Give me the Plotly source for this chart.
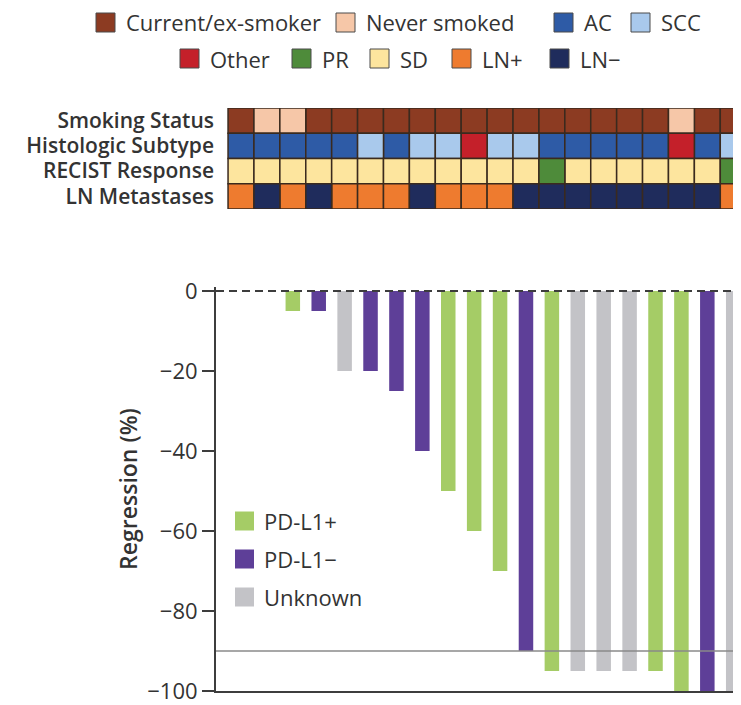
import plotly.graph_objects as go

# ---------------- data ----------------
patients = list(range(1, 21))
regression = [0, 0, -5, -5, -20, -20, -25, -40, -50, -60, -70, -90,
              -95, -95, -95, -95, -95, -100, -100, -100]
pdl1_status = ["PD-L1−", "PD-L1−", "PD-L1+", "PD-L1−", "Unknown", "PD-L1−", "PD-L1−",
               "PD-L1−", "PD-L1+", "PD-L1+", "PD-L1+", "PD-L1−", "PD-L1+", "Unknown",
               "Unknown", "Unknown", "PD-L1+", "PD-L1+", "PD-L1−", "Unknown"]
smoking = ["Current/ex-smoker", "Never smoked", "Never smoked"] + ["Current/ex-smoker"] * 14 + \
          ["Never smoked", "Current/ex-smoker", "Current/ex-smoker"]
histology = ["AC", "AC", "AC", "AC", "AC", "SCC", "AC", "SCC", "SCC", "Other", "SCC", "SCC",
             "AC", "AC", "AC", "AC", "AC", "Other", "AC", "SCC"]
recist = ["SD"] * 12 + ["PR"] + ["SD"] * 6 + ["PR"]
ln_meta = ["LN+", "LN−", "LN+", "LN−", "LN+", "LN+", "LN+", "LN−", "LN+", "LN+", "LN+"] + \
          ["LN−"] * 8 + ["LN+"]
threshold = -90

row_labels = ["Smoking Status", "Histologic Subtype", "RECIST Response", "LN Metastases"]
row_values = [smoking, histology, recist, ln_meta]

legend_row1 = ["Current/ex-smoker", "Never smoked", "AC", "SCC"]
legend_row2 = ["Other", "PR", "SD", "LN+", "LN−"]
pdl1_labels = ["PD-L1+", "PD-L1−", "Unknown"]
y_ticks = [0, -20, -40, -60, -80, -100]

# ---------------- styles ----------------
cat_colors = {
    "Current/ex-smoker": "#8C3B22", "Never smoked": "#F6C7A8",
    "AC": "#2E5BA6", "SCC": "#A9C9EC", "Other": "#C4202A",
    "PR": "#4E8B3A", "SD": "#FDE59E", "LN+": "#EE7B2F", "LN−": "#1F2C5C",
}
bar_colors = {"PD-L1+": "#A5CC66", "PD-L1−": "#5E3F98", "Unknown": "#C3C3C7"}
cell_border = "#3A2A1E"
ink = "#333333"
W, H = 741, 705
FONT = "Open Sans"
OFF = 8  # page body margin offset compensation (px)


def px_x(x):
    return (x - OFF) / W


def px_y(y):
    return 1 - (y - OFF) / H


fig = go.Figure()

# waterfall bars
for status in pdl1_labels:
    xs = [p for p, s in zip(patients, pdl1_status) if s == status]
    ys = [r for r, s in zip(regression, pdl1_status) if s == status]
    fig.add_trace(go.Bar(x=xs, y=ys, name=status, width=0.56,
                         marker=dict(color=bar_colors[status], line=dict(width=0)),
                         xaxis="x", yaxis="y", showlegend=False))

# annotation tiles (heatmap rows)
n_rows = len(row_labels)
for i, (label, vals) in enumerate(zip(row_labels, row_values)):
    base = n_rows - 1 - i
    for cat in dict.fromkeys(vals):
        xs = [p for p, v in zip(patients, vals) if v == cat]
        fig.add_trace(go.Bar(x=xs, y=[1] * len(xs), base=[base] * len(xs), width=1,
                             marker=dict(color=cat_colors[cat],
                                         line=dict(color=cell_border, width=1.5)),
                             xaxis="x2", yaxis="y2", showlegend=False, name=cat))

x_dom = [px_x(216), px_x(741)]
x_rng = [0.035, 20.3]

fig.update_layout(
    width=W, height=H, margin=dict(l=0, r=0, t=0, b=0, pad=0), autosize=False,
    paper_bgcolor="white", plot_bgcolor="white", barmode="overlay", showlegend=False,
    font=dict(family=FONT, color=ink),
    xaxis=dict(domain=x_dom, range=x_rng, anchor="y", showline=True, linecolor="#3d3d3d",
               linewidth=2, showticklabels=False, ticks="", showgrid=False, zeroline=False,
               automargin=False),
    yaxis=dict(domain=[px_y(691), px_y(287)], range=[-100, 1], anchor="x",
               tickvals=y_ticks, ticks="outside", ticklen=12, tickwidth=2,
               tickcolor="#3d3d3d", showline=True, linewidth=2, linecolor="#3d3d3d",
               showgrid=False, zeroline=False, tickfont=dict(size=22, color=ink),
               automargin=False,
               title=dict(text="Regression (%)", standoff=3,
                          font=dict(size=23, color=ink, weight=600))),
    xaxis2=dict(domain=x_dom, range=x_rng, anchor="y2", visible=False, automargin=False),
    yaxis2=dict(domain=[px_y(209), px_y(108)], range=[0, n_rows], anchor="free",
                position=px_x(214), automargin=False,
                tickvals=[n_rows - 0.5 - i for i in range(n_rows)], ticktext=row_labels,
                ticks="", showline=False, showgrid=False, zeroline=False,
                tickfont=dict(size=21, color=ink, weight=600)),
)

# reference lines
fig.add_shape(type="line", xref="x domain", x0=0, x1=1, yref="y", y0=0, y1=0,
              line=dict(color="#3d3d3d", width=2, dash="8px,5px"), layer="above")
fig.add_shape(type="line", xref="x domain", x0=0, x1=1, yref="y", y0=threshold, y1=threshold,
              line=dict(color="#8a8a8a", width=1.5), layer="above")


def legend_item(x_px, y_px, label, color, size=19, fsize=22, gap=9):
    fig.add_shape(type="rect", xref="paper", yref="paper",
                  x0=px_x(x_px), x1=px_x(x_px + size),
                  y0=px_y(y_px + size / 2), y1=px_y(y_px - size / 2),
                  fillcolor=color, line=dict(color="#4a4a4a", width=1))
    fig.add_annotation(x=px_x(x_px + size + gap), y=px_y(y_px), xref="paper", yref="paper",
                       text=label, showarrow=False, xanchor="left", yanchor="middle",
                       font=dict(size=fsize, color=ink, family=FONT))


for lab, xp in zip(legend_row1, [96, 336, 554, 631]):
    legend_item(xp, 22.5, lab, cat_colors[lab])
for lab, xp in zip(legend_row2, [180, 292, 370, 452, 550]):
    legend_item(xp, 58.5, lab, cat_colors[lab])
for lab, yp in zip(pdl1_labels, [521, 559, 597]):
    fig.add_shape(type="rect", xref="paper", yref="paper",
                  x0=px_x(235), x1=px_x(254), y0=px_y(yp + 9.5), y1=px_y(yp - 9.5),
                  fillcolor=bar_colors[lab], line=dict(width=0))
    fig.add_annotation(x=px_x(262), y=px_y(yp), xref="paper", yref="paper", text=lab,
                       showarrow=False, xanchor="left", yanchor="middle",
                       font=dict(size=22, color=ink, family=FONT))

fig.write_html("out.html")
